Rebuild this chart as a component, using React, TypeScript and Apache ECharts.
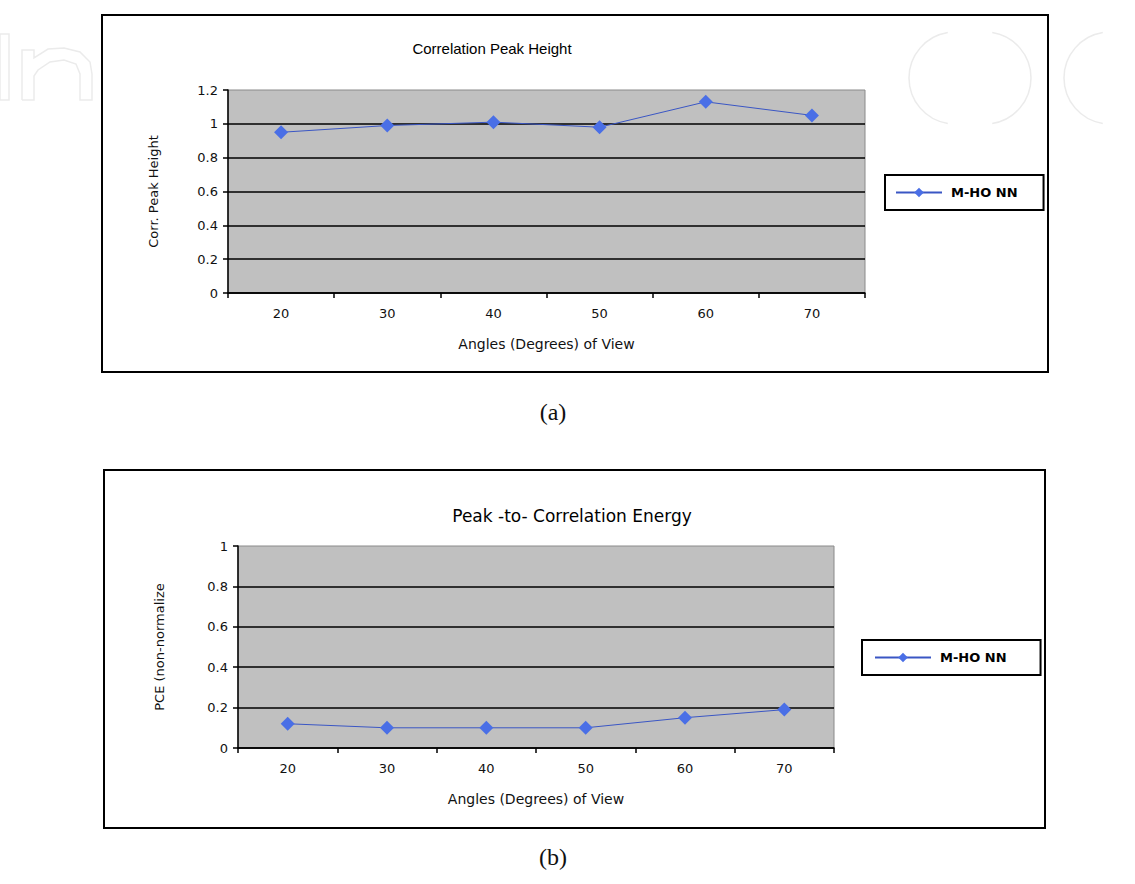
import React, { useEffect, useRef } from "react";
import * as echarts from "echarts";

const categories = ["20", "30", "40", "50", "60", "70"];
const peakHeight = [0.95, 0.99, 1.01, 0.98, 1.13, 1.05];
const pceValues = [0.12, 0.1, 0.1, 0.1, 0.15, 0.19];
const seriesName = "M-HO NN";
const titleA = "Correlation Peak Height";
const titleB = "Peak -to- Correlation Energy";
const xName = "Angles (Degrees) of View";
const yNameA = "Corr. Peak Height";
const yNameB = "PCE (non-normalize";
const yMaxA = 1.2;
const yMaxB = 1;
const yStep = 0.2;

const FONT = "'Liberation Sans', Arial, sans-serif";
const WIDE = "'DejaVu Sans', Verdana, sans-serif";
const WM = "#ebebeb";

function splitColors(n: number) {
  const arr: string[] = [];
  for (let i = 0; i < n; i++) arr.push("#000");
  arr.push("rgba(0,0,0,0)");
  return arr;
}

export default function App() {
  const ref = useRef<HTMLDivElement>(null);
  useEffect(() => {
    if (!ref.current) return;
    const chart = echarts.init(ref.current, undefined, { renderer: "svg" });
    const axisLabel = { color: "#111", fontSize: 13, fontFamily: WIDE };
    const xAxisBase = {
      type: "category" as const,
      data: categories,
      boundaryGap: true,
      axisLine: { lineStyle: { color: "#000", width: 1.5 } },
      axisTick: { show: true, length: 5, lineStyle: { color: "#000", width: 1.5 } },
      axisLabel: { ...axisLabel, margin: 14 },
      name: xName,
      nameLocation: "middle" as const,
      nameGap: 44,
      nameTextStyle: { color: "#111", fontSize: 14, fontFamily: WIDE },
    };
    const yAxisBase = (max: number, grid: number, gap: number, name: string) => ({
      type: "value" as const,
      gridIndex: grid,
      min: 0,
      max,
      interval: yStep,
      axisLine: { show: true, lineStyle: { color: "#000", width: 1.5 } },
      axisTick: { show: true, length: 5, lineStyle: { color: "#000", width: 1.5 } },
      axisLabel: { ...axisLabel, margin: 10 },
      splitLine: { show: true, lineStyle: { color: splitColors(Math.round(max / yStep)), width: 1.5 } },
      name,
      nameLocation: "middle" as const,
      nameRotate: 90,
      nameGap: gap,
      nameTextStyle: { color: "#111", fontSize: 13, fontFamily: WIDE },
    });
    const seriesBase = {
      type: "line" as const,
      name: seriesName,
      symbol: "diamond",
      symbolSize: 14,
      lineStyle: { color: "#3a56c4", width: 1 },
      itemStyle: { color: "#4a6fe6" },
    };
    const legendBase = {
      data: [seriesName],
      orient: "vertical" as const,
      itemWidth: 46,
      itemHeight: 12,
      borderColor: "#000",
      borderWidth: 2,
      borderRadius: 0,
      backgroundColor: "#fff",
      textStyle: { color: "#000", fontSize: 13, fontWeight: "bold" as const, fontFamily: WIDE, padding: [0, 0, 0, 4] },
    };
    chart.setOption({
      animation: false,
      backgroundColor: "#fff",
      title: [
        {
          text: titleA,
          left: 487,
          top: 36,
          textAlign: "center",
          textStyle: { color: "#000", fontSize: 15, fontWeight: "normal", fontFamily: FONT },
        },
        {
          text: titleB,
          left: 567,
          top: 502,
          textAlign: "center",
          textStyle: { color: "#000", fontSize: 17, fontWeight: "normal", fontFamily: WIDE },
        },
      ],
      legend: [
        { ...legendBase, left: 885, top: 175, padding: [11, 26, 11, 10] },
        { ...legendBase, left: 862, top: 640, padding: [11, 34, 11, 12], itemWidth: 56 },
      ],
      grid: [
        { left: 228, top: 90, width: 637, height: 203, show: true, backgroundColor: "#c0c0c0", borderColor: "#8a8a8a", borderWidth: 1 },
        { left: 238, top: 546, width: 596, height: 202, show: true, backgroundColor: "#c0c0c0", borderColor: "#8a8a8a", borderWidth: 1 },
      ],
      xAxis: [
        { ...xAxisBase, gridIndex: 0 },
        { ...xAxisBase, gridIndex: 1 },
      ],
      yAxis: [yAxisBase(yMaxA, 0, 68, yNameA), yAxisBase(yMaxB, 1, 72, yNameB)],
      series: [
        { ...seriesBase, xAxisIndex: 0, yAxisIndex: 0, data: peakHeight },
        { ...seriesBase, xAxisIndex: 1, yAxisIndex: 1, data: pceValues },
      ],
      graphic: [
        // faint watermark outlines
        { type: "rect", silent: true, z: -5, shape: { x: 0, y: 34, width: 9, height: 66 }, style: { fill: "none", stroke: WM, lineWidth: 1.5 } },
        { type: "polyline", silent: true, z: -5, shape: { points: [[22, 100], [22, 50], [34, 50], [34, 58], [48, 49], [64, 48], [80, 52], [90, 62], [92, 74], [92, 100], [80, 100], [80, 74], [76, 64], [64, 60], [50, 62], [38, 70], [34, 76], [34, 100], [22, 100]] }, style: { fill: "none", stroke: WM, lineWidth: 1.5 } },
        { type: "arc", silent: true, z: -5, shape: { cx: 955, cy: 78, r: 46, startAngle: Math.PI * 0.55, endAngle: Math.PI * 1.45 }, style: { fill: "none", stroke: WM, lineWidth: 1.5 } },
        { type: "arc", silent: true, z: -5, shape: { cx: 985, cy: 78, r: 46, startAngle: -Math.PI * 0.45, endAngle: Math.PI * 0.45 }, style: { fill: "none", stroke: WM, lineWidth: 1.5 } },
        { type: "arc", silent: true, z: -5, shape: { cx: 1110, cy: 78, r: 46, startAngle: Math.PI * 0.55, endAngle: Math.PI * 1.45 }, style: { fill: "none", stroke: WM, lineWidth: 1.5 } },
        // panel borders
        { type: "rect", shape: { x: 102, y: 15, width: 946, height: 357 }, style: { fill: "none", stroke: "#000", lineWidth: 2 }, z: -1 },
        { type: "rect", shape: { x: 104, y: 470, width: 941, height: 358 }, style: { fill: "none", stroke: "#000", lineWidth: 2 }, z: -1 },
        { type: "text", x: 553, y: 412, style: { text: "(a)", fill: "#111", fontSize: 24, fontFamily: "'Liberation Serif', 'DejaVu Serif', serif", align: "center", verticalAlign: "middle" } },
        { type: "text", x: 553, y: 857, style: { text: "(b)", fill: "#111", fontSize: 24, fontFamily: "'Liberation Serif', 'DejaVu Serif', serif", align: "center", verticalAlign: "middle" } },
      ],
    });
    return () => chart.dispose();
  }, []);
  return <div ref={ref} style={{ position: "absolute", left: 0, top: 0, width: 1135, height: 884 }} />;
}
